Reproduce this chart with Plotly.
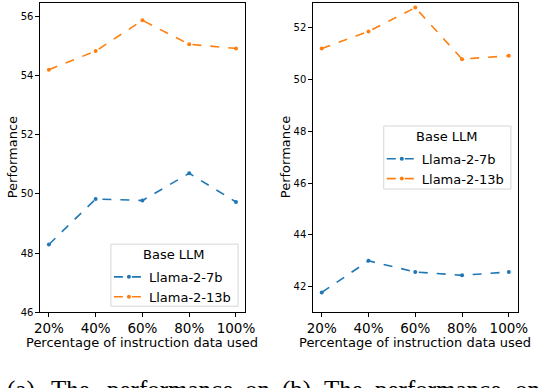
import plotly.graph_objects as go

# data
pct_labels = ["20%", "40%", "60%", "80%", "100%"]

left_7b = [48.29, 49.83, 49.78, 50.70, 49.73]
left_13b = [54.21, 54.84, 55.88, 55.07, 54.93]

right_7b = [41.78, 43.00, 42.57, 42.44, 42.57]
right_13b = [51.20, 51.86, 52.78, 50.79, 50.92]

left_yticks = [46, 48, 50, 52, 54, 56]
right_yticks = [42, 44, 46, 48, 50, 52]

BLUE = "#1f77b4"
ORANGE = "#ff7f0e"
FONT = "DejaVu Sans"

W, H = 552, 388

fig = go.Figure()

x = list(range(len(pct_labels)))


def add_series(y, name, color, xa, ya, legend):
    fig.add_trace(go.Scatter(
        x=x, y=y, name=name, mode="lines+markers",
        xaxis=xa, yaxis=ya, legend=legend,
        line=dict(color=color, width=1.6, dash="dash"),
        marker=dict(color=color, size=4, symbol="circle"),
    ))


add_series(left_7b, "Llama-2-7b", BLUE, "x", "y", "legend")
add_series(left_13b, "Llama-2-13b", ORANGE, "x", "y", "legend")
add_series(right_7b, "Llama-2-7b", BLUE, "x2", "y2", "legend2")
add_series(right_13b, "Llama-2-13b", ORANGE, "x2", "y2", "legend2")

ydom = [1 - 317 / H, 1 - 3 / H]
xdom_l = [35 / W, 246 / W]
xdom_r = [316 / W, 527 / W]

axis_common = dict(
    showline=True, mirror=True, linecolor="black", linewidth=1,
    ticks="outside", ticklen=3.5, tickcolor="black", showgrid=False,
    zeroline=False,
)

xaxis_common = dict(
    axis_common, range=[-0.19, 4.19], tickvals=x, ticktext=pct_labels,
    tickfont=dict(family=FONT, size=13.5, color="black"),
)

legend_common = dict(
    bgcolor="rgba(0,0,0,0)", borderwidth=0,
    font=dict(family=FONT, size=13),
    itemwidth=30, tracegroupgap=0, xanchor="left", yanchor="top",
)

# legend boxes (left, top, right, bottom) in pixels
box_l = (108, 248, 239, 311)
box_r = (389, 128, 520, 192)

fig.update_layout(
    width=W, height=H, autosize=False,
    margin=dict(l=0, r=0, t=0, b=0),
    paper_bgcolor="white", plot_bgcolor="white",
    font=dict(family=FONT, color="black"),
    xaxis=dict(xaxis_common, domain=xdom_l, anchor="y"),
    xaxis2=dict(xaxis_common, domain=xdom_r, anchor="y2"),
    yaxis=dict(
        axis_common, domain=ydom, anchor="x", range=[46, 56.47],
        tickvals=left_yticks, tickfont=dict(family=FONT, size=10),
    ),
    yaxis2=dict(
        axis_common, domain=ydom, anchor="x2", range=[41.02, 52.96],
        tickvals=right_yticks, tickfont=dict(family=FONT, size=10),
    ),
    legend=dict(legend_common, x=(box_l[0] - 2) / W,
                y=1 - (box_l[1] + 18) / H),
    legend2=dict(legend_common, x=(box_r[0] - 2) / W,
                 y=1 - (box_r[1] + 18) / H),
)

for bx in (box_l, box_r):
    fig.add_shape(
        type="rect", xref="paper", yref="paper", layer="below",
        x0=bx[0] / W, x1=bx[2] / W, y0=1 - bx[3] / H, y1=1 - bx[1] / H,
        line=dict(color="#d6d6d6", width=1), fillcolor="white",
    )
    fig.add_annotation(
        text="Base LLM", xref="paper", yref="paper",
        x=(bx[0] + bx[2]) / 2 / W, y=1 - (bx[1] + 11) / H,
        xanchor="center", yanchor="middle", showarrow=False,
        font=dict(family=FONT, size=13, color="black"), borderpad=0,
    )

# axis titles
for dom, ytitle_px in [(xdom_l, 7), (xdom_r, 288)]:
    fig.add_annotation(
        text="Percentage of instruction data used", xref="paper",
        yref="paper", x=(dom[0] + dom[1]) / 2, y=1 - 348 / H,
        xanchor="center", yanchor="middle", showarrow=False,
        font=dict(family=FONT, size=13, color="black"), borderpad=0,
    )
    fig.add_annotation(
        text="Performance", xref="paper", yref="paper",
        x=ytitle_px / W, y=(ydom[0] + ydom[1]) / 2, textangle=-90,
        xanchor="center", yanchor="middle", showarrow=False,
        font=dict(family=FONT, size=13, color="black"), borderpad=0,
    )

# clipped subfigure captions along the bottom edge
caption_words = [("(a)", 0), ("The", 45), ("performance", 103), ("on", 245),
                 ("(b)", 283), ("The", 326), ("performance", 379), ("on", 523)]
for word, px in caption_words:
    fig.add_annotation(
        text=word, xref="paper", yref="paper", x=px / W, y=1 - 381 / H,
        xanchor="left", yanchor="top", showarrow=False,
        font=dict(family="Liberation Serif", size=25, color="black"),
        borderpad=0,
    )

# the page body has a default 8px margin; drop it so the figure sits at 0,0
fig.write_html("out.html", config={"displayModeBar": False},
               post_script="document.body.style.margin='0';")
